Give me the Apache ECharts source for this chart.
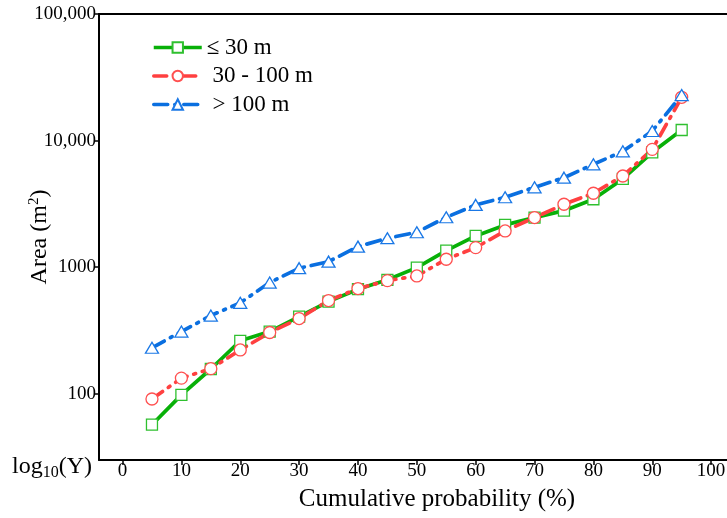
<!DOCTYPE html>
<html>
<head>
<meta charset="utf-8">
<script src="https://cdn.jsdelivr.net/npm/echarts@6/dist/echarts.min.js"></script>
<style>html,body{margin:0;padding:0;background:#fff}#c{width:727px;height:518px}</style>
</head>
<body>
<div id="c"></div>
<script>
const probability = [5,10,15,20,25,30,35,40,45,50,55,60,65,70,75,80,85,90,95];
const areaSmall  = [57, 98, 157, 262, 310, 407, 535, 670, 795, 993, 1352, 1766, 2158, 2466, 2797, 3441, 4977, 8085, 12125];
const areaMedium = [91, 133, 158, 222, 305, 393, 545, 678, 783, 853, 1156, 1428, 1934, 2466, 3141, 3837, 5255, 8530, 21970];
const areaLarge  = [231, 310, 415, 523, 756, 982, 1107, 1454, 1694, 1888, 2481, 3103, 3568, 4276, 5093, 6500, 8232, 11903, 22900];
const seriesNames = ['≤ 30 m', ' 30 - 100 m', ' > 100 m'];
const xTicks = [0,10,20,30,40,50,60,70,80,90,100];
const yTicks = [100, 1000, 10000, 100000];
const yTickLabels = ['100', '1000', '10,000', '100,000'];

const FONT = '"Liberation Serif", "Times New Roman", serif';
const pair = arr => probability.map((x, i) => [x, arr[i]]);

const chart = echarts.init(document.getElementById('c'), null, {renderer: 'canvas'});
chart.setOption({
  animation: false,
  backgroundColor: '#fff',
  grid: {left: 99, right: 0, top: 14, bottom: 58, containLabel: false, outerBoundsMode: 'none'},
  legend: {
    orient: 'vertical', left: 147, top: 31, padding: 5,
    itemWidth: 48, itemHeight: 13, itemGap: 5.5,
    lineStyle: {width: 3.5},
    textStyle: {fontFamily: FONT, fontSize: 23, color: '#000'},
    data: seriesNames
  },
  xAxis: [{
    type: 'value', min: -4, max: 102.7,
    name: 'Cumulative probability (%)', nameLocation: 'middle', nameGap: 27, nameMoveOverlap: false,
    nameTextStyle: {fontFamily: FONT, fontSize: 25, color: '#000', padding: [0, 0, 0, 48]},
    axisLine: {show: true, onZero: false, lineStyle: {color: '#000', width: 2}},
    axisTick: {show: true, length: 5, lineStyle: {color: '#000', width: 1.5}, customValues: xTicks},
    axisLabel: {fontFamily: FONT, fontSize: 19, color: '#000', margin: 2, customValues: xTicks},
    splitLine: {show: false}
  }, {
    type: 'value', position: 'top', min: -4, max: 102.7,
    axisLine: {show: true, onZero: false, lineStyle: {color: '#000', width: 2}},
    axisTick: {show: false}, axisLabel: {show: false}, splitLine: {show: false}
  }],
  yAxis: {
    type: 'log', min: 30, max: 100000,
    name: '{a|Area (m}{s|2}{a|)}', nameLocation: 'middle', nameGap: 47, nameRotate: 90, nameMoveOverlap: false,
    nameTextStyle: {
      color: '#000',
      rich: {
        a: {fontFamily: FONT, fontSize: 24, color: '#000'},
        s: {fontFamily: FONT, fontSize: 15, color: '#000', padding: [0, 0, 10, 0]}
      }
    },
    axisLine: {show: true, onZero: false, lineStyle: {color: '#000', width: 2}},
    axisTick: {show: true, length: 5, lineStyle: {color: '#000', width: 1.5}, customValues: yTicks},
    axisLabel: {
      fontFamily: FONT, fontSize: 19, color: '#000', margin: 3, customValues: yTicks,
      formatter: v => { const i = yTicks.findIndex(t => Math.abs(t - v) / t < 1e-6); return i >= 0 ? yTickLabels[i] : ''; }
    },
    splitLine: {show: false}
  },
  graphic: [{
    type: 'text', left: 12, top: 455,
    style: {
      text: '{a|log}{b|10}{a|(Y)}',
      rich: {
        a: {fontFamily: FONT, fontSize: 24, fill: '#000'},
        b: {fontFamily: FONT, fontSize: 16, fill: '#000', padding: [11, 0, 0, 0]}
      }
    }
  }],
  series: [{
    name: seriesNames[0], type: 'line', data: pair(areaSmall),
    symbol: 'rect', symbolSize: 11,
    lineStyle: {color: '#08b008', width: 3.7, type: 'solid'},
    itemStyle: {color: '#fff', borderColor: '#2fc02f', borderWidth: 1.3}
  }, {
    name: seriesNames[1], type: 'line', data: pair(areaMedium),
    symbol: 'circle', symbolSize: 12,
    lineStyle: {color: '#ff4040', width: 3.7, type: [13, 7, 2, 7], cap: 'round'},
    itemStyle: {color: '#fff', borderColor: '#ff5050', borderWidth: 1.3}
  }, {
    name: seriesNames[2], type: 'line', data: pair(areaLarge),
    symbol: 'triangle', symbolSize: [13, 11],
    lineStyle: {color: '#0a6fe0', width: 3.7, type: [14, 7, 2, 7], cap: 'round'},
    itemStyle: {color: '#fff', borderColor: '#1a78e6', borderWidth: 1.3}
  }]
});
</script>
</body>
</html>
